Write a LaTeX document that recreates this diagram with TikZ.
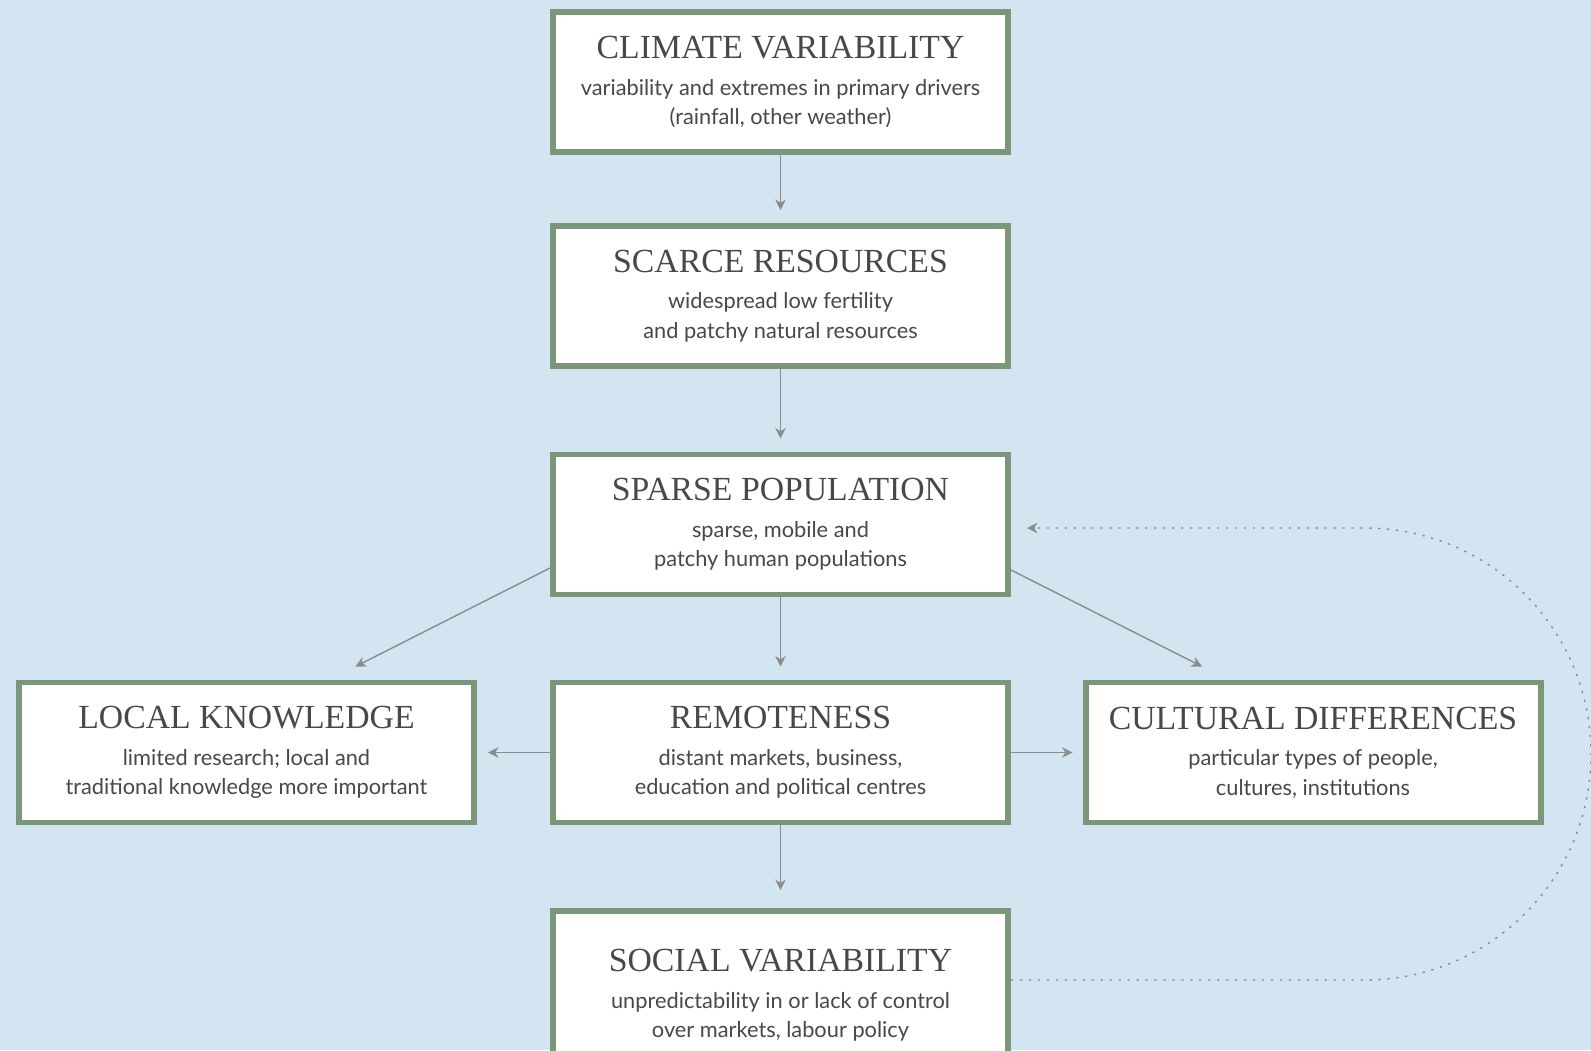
\documentclass[tikz,border=0pt]{standalone}
\usepackage{fontspec}
\usetikzlibrary{arrows.meta}
\newfontfamily\titulo{Liberation Serif}
\newfontfamily\texto{Lato}
\definecolor{fondo}{RGB}{211,229,240}
\definecolor{verde}{RGB}{123,151,121}
\definecolor{gris}{RGB}{140,140,140}
\definecolor{tinta}{RGB}{72,72,72}
\newcommand{\cabeza}[1]{{\titulo\fontsize{19.2}{20}\selectfont #1}\\[4pt]}
\begin{document}
\begin{tikzpicture}[
    caja/.style={draw=verde, line width=3.4pt, fill=white, minimum width=9.1cm,
        minimum height=2.8cm, align=center, text=tinta,
        font=\texto\fontsize{12.4}{16.7}\selectfont},
    flecha/.style={draw=gris, line width=0.8pt, -{Stealth[length=6pt,width=6pt]}},
    punteada/.style={draw=gris, line width=0.8pt, dash pattern=on 1.3pt off 3.8pt,
        -{Stealth[length=6pt,width=6pt]}}]
    \useasboundingbox (0,0) rectangle (31.82,21);
    \fill[fondo] (0,0) rectangle (31.82,21);
    % Cajas
    \node[caja] (clima) at (15.61,19.36) {\cabeza{CLIMATE VARIABILITY}variability and extremes in primary drivers\\(rainfall, other weather)};
    \node[caja] (recursos) at (15.61,15.08) {\cabeza{SCARCE RESOURCES}widespread low fertility\\and patchy natural resources};
    \node[caja] (poblacion) at (15.61,10.51) {\cabeza{SPARSE POPULATION}sparse, mobile and\\patchy human populations};
    \node[caja] (local) at (4.93,5.95) {\cabeza{LOCAL KNOWLEDGE}limited research; local and\\traditional knowledge more important};
    \node[caja] (lejania) at (15.61,5.95) {\cabeza{REMOTENESS}distant markets, business,\\education and political centres};
    \node[caja] (cultura) at (26.26,5.95) {\cabeza{CULTURAL DIFFERENCES}particular types of people,\\cultures, institutions};
    \node[caja, minimum height=3.38cm] (social) at (15.61,1.09) {\cabeza{SOCIAL VARIABILITY}unpredictability in or lack of control\\over markets, labour policy};
    % Flechas
    \draw[flecha, shorten >=0.26cm] (clima) -- (recursos);
    \draw[flecha, shorten >=0.26cm] (recursos) -- (poblacion);
    \draw[flecha, shorten >=0.26cm] (poblacion) -- (lejania);
    \draw[flecha, shorten >=0.36cm] (lejania) -- (social);
    \draw[flecha, shorten >=0.22cm] (lejania) -- (local);
    \draw[flecha, shorten >=0.2cm] (lejania) -- (cultura);
    \draw[flecha] ([yshift=-0.87cm]poblacion.west) -- ([xshift=2.18cm,yshift=0.26cm]local.north);
    \draw[flecha] ([yshift=-0.91cm]poblacion.east) -- ([xshift=-2.22cm,yshift=0.26cm]cultura.north);
    % Lazo punteado
    \draw[punteada] ([yshift=0.31cm]social.east) -- ++(7.08,0)
        arc[start angle=-90, end angle=90, radius=4.52]
        -- ([xshift=0.32cm,yshift=-0.07cm]poblacion.east);
\end{tikzpicture}
\end{document}
